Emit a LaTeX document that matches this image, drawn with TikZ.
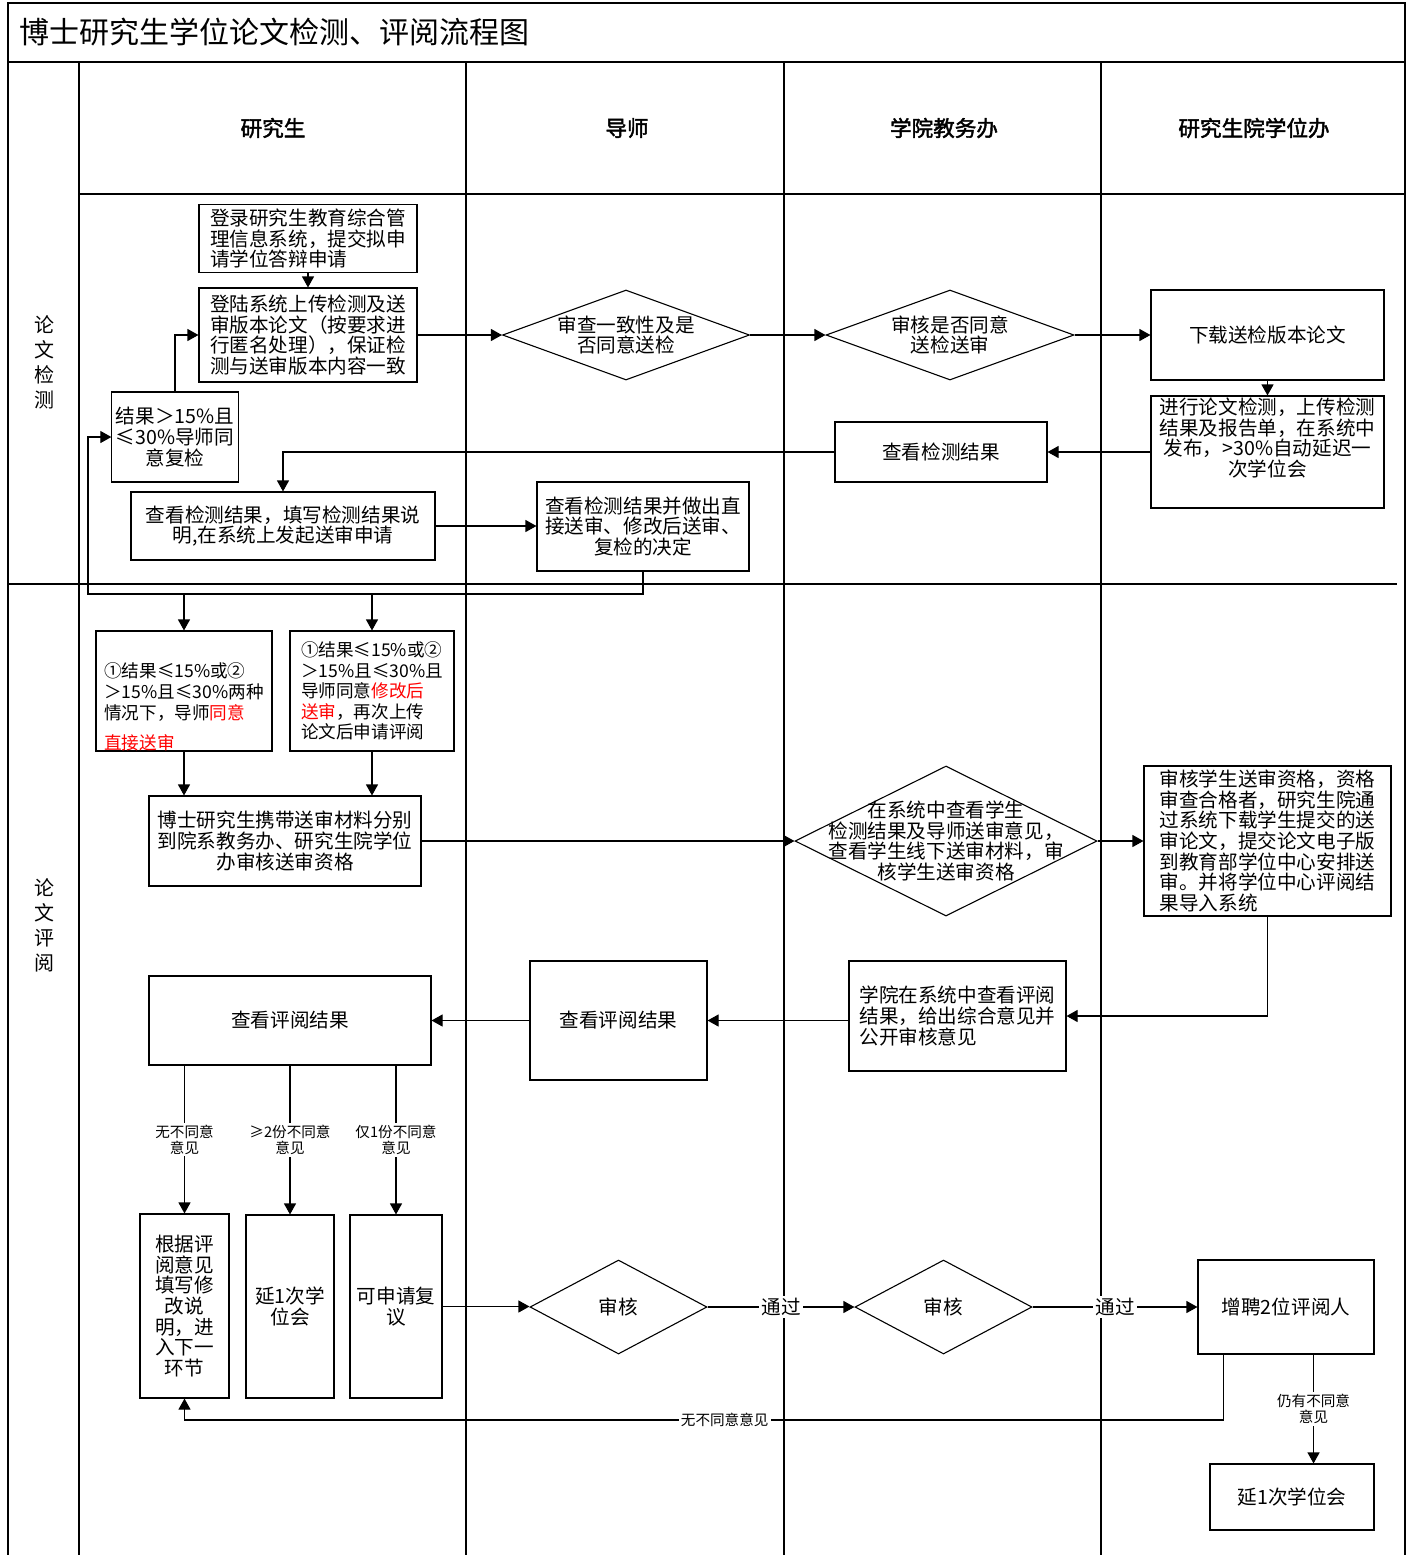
\documentclass[tikz,border=0pt]{standalone}
\usepackage{fontspec}
\setmainfont[AutoFakeBold=2]{Noto Sans CJK SC}
\usetikzlibrary{positioning,arrows.meta,shapes.geometric}

\begin{document}
\begin{tikzpicture}[x=0.5pt, y=-0.5pt, line width=0.55pt,
    font=\fontsize{9.8}{10.3}\selectfont,
    box/.style={draw, rectangle, align=center, inner sep=2pt},
    dia/.style={draw, diamond, inner sep=0pt},
    arr/.style={-{Triangle[length=5.5pt,width=6pt]}},
    lbl/.style={font=\fontsize{7.3}{8}\selectfont, fill=white, inner sep=1pt, align=center},
    pass/.style={lbl, font=\fontsize{9.8}{10.3}\selectfont},
    narrow/.style={font=\fontsize{8.8}{10.3}\selectfont},
    lane/.style={font=\bfseries\fontsize{10.8}{13}\selectfont},
    sec/.style={align=center, font=\fontsize{10}{12.5}\selectfont}]
  \useasboundingbox (0,0) rectangle (1413,1555);
  % frame and swimlanes
  \draw (8,1555) -- (8,3) -- (1405,3) -- (1405,1555);
  \draw (8,62) -- (1405,62);
  \draw (79,194) -- (1405,194);
  \draw (8,584) -- (1397,584);
  \foreach \x in {79,466,784,1101}
    \draw (\x,62) -- (\x,1555);
  \node[anchor=west, font=\fontsize{15}{18}\selectfont] (title) at (12,32) {博士研究生学位论文检测、评阅流程图};
  \node[lane] (h1) at (273,128) {研究生};
  \node[lane] (h2) at (627,128) {导师};
  \node[lane] (h3) at (944,128) {学院教务办};
  \node[lane] (h4) at (1254,128) {研究生院学位办};
  \node[sec] (s1) at (44,362) {论\\文\\检\\测};
  \node[sec] (s2) at (44,925) {论\\文\\评\\阅};

  % thesis check
  \node[box, minimum width=109pt, minimum height=32.5pt, align=left] (n1) at (308,238.5) {登录研究生教育综合管\\理信息系统，提交拟申\\请学位答辩申请};
  \node[box, minimum width=109pt, minimum height=47pt, align=left] (n2) at (308,335) {登陆系统上传检测及送\\审版本论文（按要求进\\行匿名处理），保证检\\测与送审版本内容一致};
  \node[box, minimum width=62pt, minimum height=45pt] (n3) at (175,437) {结果＞15\%且\\≤30\%导师同\\意复检};
  \node[dia, minimum width=123.5pt, minimum height=45pt, label={[align=center]center:{审查一致性及是\\否同意送检}}] (n4) at (626,335) {};
  \node[dia, minimum width=124pt, minimum height=45pt, label={[align=center]center:{审核是否同意\\送检送审}}] (n5) at (950,335) {};
  \node[box, minimum width=116.5pt, minimum height=45pt] (n6) at (1267.5,335) {下载送检版本论文};
  \node[box, minimum width=116.5pt, minimum height=56pt, label={[anchor=north, inner sep=1pt, align=center]north:{进行论文检测，上传检测\\结果及报告单，在系统中\\发布，>30\%自动延迟一\\次学位会}}] (n7) at (1267.5,452) {};
  \node[box, minimum width=106pt, minimum height=30pt] (n8) at (941,452) {查看检测结果};
  \node[box, minimum width=152pt, minimum height=34pt] (n9) at (283,526) {查看检测结果，填写检测结果说\\明,在系统上发起送审申请};
  \node[box, minimum width=106pt, minimum height=44.5pt] (n10) at (643,526.5) {查看检测结果并做出直\\接送审、修改后送审、\\复检的决定};

  \draw[arr] (n1) -- (n2);
  \draw[arr] (n3.north) |- (n2.west);
  \draw[arr] (n2) -- (n4);
  \draw[arr] (n4) -- (n5);
  \draw[arr] (n5) -- (n6);
  \draw[arr] (n6) -- (n7);
  \draw[arr] (n7) -- (n8);
  \draw[arr] (n8.west) -| (n9.north);
  \draw[arr] (n9.east) -- (n9.east -| n10.west);
  \coordinate (j1) at (88,594);
  \draw[arr] (n10.south) |- (j1) |- (n3.west);

  % thesis review
  \node[box, minimum width=88pt, minimum height=60pt, label={[narrow, align=left, yshift=-8pt]center:{①结果≤15\%或②\\＞15\%且≤30\%两种\\情况下，导师\textcolor{red}{同意}\\[5pt]\textcolor{red}{直接送审}}}] (n11) at (184,691) {};
  \node[box, narrow, minimum width=82pt, minimum height=60pt, align=left] (n12) at (372,691) {①结果≤15\%或②\\＞15\%且≤30\%且\\导师同意\textcolor{red}{修改后}\\\textcolor{red}{送审}，再次上传\\论文后申请评阅};
  \node[box, minimum width=136pt, minimum height=45pt] (n13) at (285,841) {博士研究生携带送审材料分别\\到院系教务办、研究生院学位\\办审核送审资格};
  \node[dia, minimum width=151pt, minimum height=75pt, label={[align=center]center:{在系统中查看学生\\检测结果及导师送审意见，\\查看学生线下送审材料，审\\核学生送审资格}}] (n14) at (946,841) {};
  \node[box, minimum width=123.5pt, minimum height=75pt, align=left, inner ysep=1pt] (n15) at (1267.5,841) {审核学生送审资格，资格\\审查合格者，研究生院通\\过系统下载学生提交的送\\审论文，提交论文电子版\\到教育部学位中心安排送\\审。并将学位中心评阅结\\果导入系统};
  \node[box, minimum width=108.5pt, minimum height=55pt, align=left] (n16) at (957.5,1016) {学院在系统中查看评阅\\结果，给出综合意见并\\公开审核意见};
  \node[box, minimum width=88.5pt, minimum height=59.5pt] (n17) at (618.5,1020.5) {查看评阅结果};
  \node[box, minimum width=141pt, minimum height=44.5pt] (n18) at (290,1020.5) {查看评阅结果};
  \node[box, minimum width=44.5pt, minimum height=92pt] (n19) at (184.5,1306) {根据评\\阅意见\\填写修\\改说\\明，进\\入下一\\环节};
  \node[box, minimum width=44pt, minimum height=91.5pt] (n20) at (290,1306.5) {延1次学\\位会};
  \node[box, minimum width=46pt, minimum height=91.5pt] (n21) at (396,1306.5) {可申请复\\议};
  \node[dia, minimum width=88.5pt, minimum height=47pt] (n22) at (618.5,1307) {审核};
  \node[dia, minimum width=88.5pt, minimum height=47pt] (n23) at (943.5,1307) {审核};
  \node[box, minimum width=88pt, minimum height=47pt] (n24) at (1286,1307) {增聘2位评阅人};
  \node[box, minimum width=82pt, minimum height=33pt] (n25) at (1292,1497) {延1次学位会};

  \draw[arr] (n11 |- j1) -- (n11.north);
  \draw[arr] (n12 |- j1) -- (n12.north);
  \draw[arr] (n11.south) -- (n11.south |- n13.north);
  \draw[arr] (n12.south) -- (n12.south |- n13.north);
  \draw[arr] (n13) -- (n14);
  \draw[arr] (n14) -- (n15);
  \draw[arr] (n15.south) |- (n16.east);
  \draw[arr] (n17.east -| n16.west) -- (n17.east);
  \draw[arr] (n17) -- (n18);
  \draw[arr] (n18.south -| n19) -- node[lbl]{无不同意\\意见} (n19.north);
  \draw[arr] (n18.south -| n20) -- node[lbl]{≥2份不同意\\意见} (n20.north);
  \draw[arr] (n18.south -| n21) -- node[lbl]{仅1份不同意\\意见} (n21.north);
  \draw[arr] (n21.east) -- (n21.east -| n22.west);
  \draw[arr] (n22) -- node[pass]{通过} (n23);
  \draw[arr] (n23) -- node[pass]{通过} (n24);
  \coordinate (j2) at (184.5,1420);
  \draw[arr] ([xshift=13pt]n24.south west) |- node[lbl, pos=0.74]{无不同意意见} (j2) -- (n19.south);
  \coordinate (k1) at ([xshift=-30.5pt]n24.south east);
  \draw[arr] (k1) -- node[lbl]{仍有不同意\\意见} (k1 |- n25.north);
\end{tikzpicture}
\end{document}
